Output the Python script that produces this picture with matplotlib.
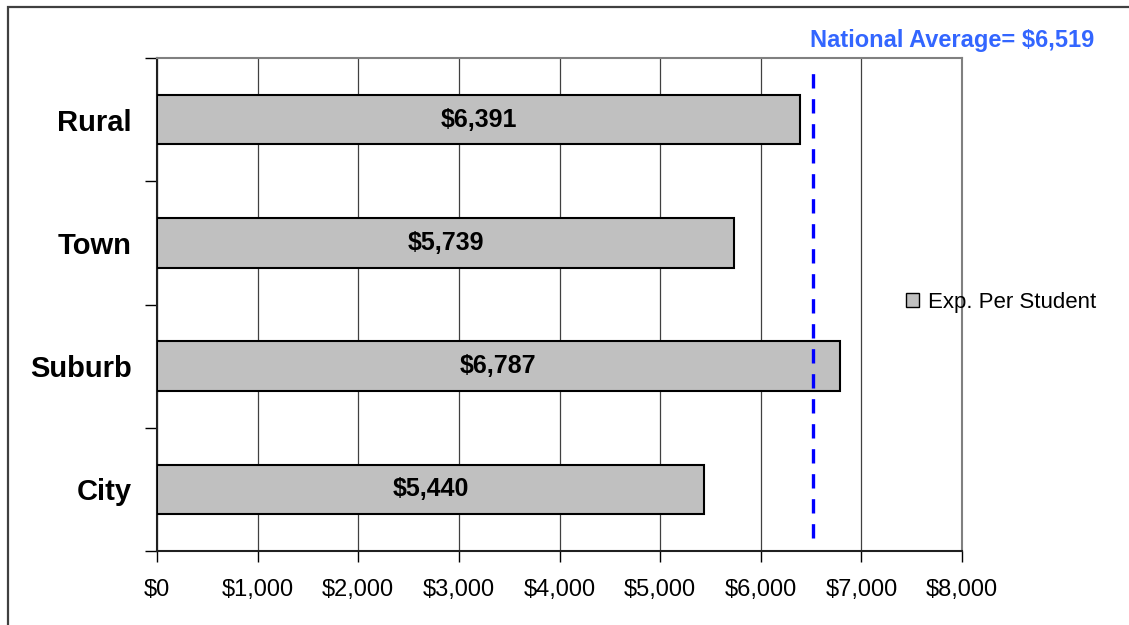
import matplotlib
matplotlib.use("Agg")
import matplotlib.pyplot as plt
from matplotlib.patches import Rectangle

categories = ["City", "Suburb", "Town", "Rural"]
exp_per_student = [5440, 6787, 5739, 6391]
national_average = 6519
x_ticks = [0, 1000, 2000, 3000, 4000, 5000, 6000, 7000, 8000]

plt.rcParams['font.family'] = ['Liberation Sans', 'DejaVu Sans']

fig = plt.figure(figsize=(11.29, 6.25), dpi=100)
ax = fig.add_axes([157 / 1129, 1 - 551 / 625, (962 - 157) / 1129, (551 - 58) / 625])

# outer frame (only top and left edges show in the reference)
fig.add_artist(Rectangle((8 / 1129, -0.1), 1.2, 0.1 + (625 - 7) / 625,
                         transform=fig.transFigure, fill=False,
                         edgecolor='#404040', linewidth=1.6))

ypos = range(len(categories))
ax.barh(ypos, exp_per_student, height=0.4, color='#C0C0C0',
        edgecolor='black', linewidth=1.5, zorder=3)

for y, v in zip(ypos, exp_per_student):
    ax.text(v / 2, y, f"${v:,}", ha='center', va='center',
            fontsize=18, fontweight='bold', zorder=4)

ax.axvline(national_average, ymin=0.026, ymax=0.99, color='#0000FF',
           linestyle=(0, (4.3, 3.2)), linewidth=2.4, zorder=4)
ax.text(national_average - 30, 1.012, f"National Average= ${national_average:,}",
        transform=ax.get_xaxis_transform(), color='#3366FF',
        fontsize=17, fontweight='bold', ha='left', va='bottom')

ax.set_xlim(0, 8000)
ax.set_ylim(-0.5, len(categories) - 0.5)
ax.set_xticks(x_ticks)
ax.set_xticklabels([f"${t:,}" for t in x_ticks], fontsize=17)
ax.tick_params(axis='x', direction='out', length=8, width=1, pad=12)

ax.set_yticks(list(ypos))
ax.set_yticklabels(categories, fontsize=21, fontweight='bold')
ax.tick_params(axis='y', which='major', length=0, pad=18)
ax.set_yticks([y - 0.5 for y in range(len(categories) + 1)], minor=True)
ax.tick_params(axis='y', which='minor', direction='out', length=9, width=1)

ax.grid(axis='x', color='#404040', linewidth=0.9, zorder=0)
ax.set_axisbelow(True)
for side in ['top', 'right']:
    ax.spines[side].set_color('#808080')
    ax.spines[side].set_linewidth(1.5)
for side in ['left', 'bottom']:
    ax.spines[side].set_color('#202020')
    ax.spines[side].set_linewidth(1.5)

handle = Rectangle((0, 0), 1, 1, facecolor='#C0C0C0', edgecolor='black', linewidth=1)
fig.legend([handle], ['Exp. Per Student'], loc='center left',
           bbox_to_anchor=(886 / 1129, 1 - 302 / 625), frameon=False,
           fontsize=16, handlelength=0.6, handleheight=0.6, handletextpad=0.4)

fig.savefig("out.png", dpi=100)
